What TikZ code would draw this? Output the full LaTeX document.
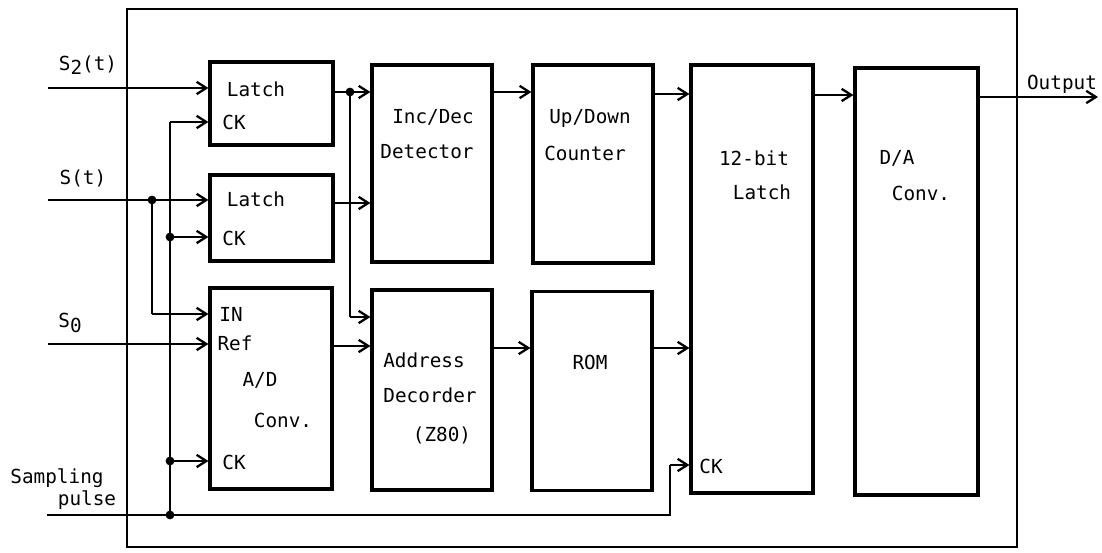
\documentclass[tikz,border=0pt]{standalone}
\usepackage{fontspec}
\setmonofont{DejaVu Sans Mono}
\usetikzlibrary{arrows.meta}

\begin{document}
\begin{tikzpicture}[
  x=0.02cm, y=-0.02cm,
  font=\ttfamily\fontsize{11}{13}\selectfont,
  blocco/.style={draw=black, line width=1.8pt, fill=white, inner sep=0pt},
  scritta/.style={inner sep=0pt},
  filo/.style={draw=black, line width=1.3pt},
  freccia/.style={filo, -{Straight Barb[length=5.5pt, width=7pt, line width=1.3pt]}},
  punto/.style={circle, fill=black, inner sep=0pt, minimum size=5pt}
]
\useasboundingbox (0,0) rectangle (1102,553);

% ---- cornice esterna -----------------------------------------------
\draw[line width=1.4pt] (127,9) rectangle (1017,547);

% ---- blocchi -------------------------------------------------------
\node[blocco, minimum width=2.46cm, minimum height=1.66cm] (latchA)  at (271.5,103.5) {};
\node[blocco, minimum width=2.46cm, minimum height=1.72cm] (latchB)  at (271.5,218)   {};
\node[blocco, minimum width=2.44cm, minimum height=4.02cm] (adc)     at (271,388.5)   {};
\node[blocco, minimum width=2.40cm, minimum height=3.94cm] (incdec)  at (432,163.5)   {};
\node[blocco, minimum width=2.40cm, minimum height=3.96cm] (counter) at (593,164)     {};
\node[blocco, minimum width=2.40cm, minimum height=4.00cm] (decoder) at (432,390)     {};
\node[blocco, minimum width=2.40cm, minimum height=3.98cm] (rom)     at (592,391)     {};
\node[blocco, minimum width=2.44cm, minimum height=8.56cm] (latch12) at (752,279)     {};
\node[blocco, minimum width=2.46cm, minimum height=8.54cm] (dac)     at (916.5,281.5) {};

% ---- scritte nei blocchi -------------------------------------------
\node[scritta] (tLatchA) at (256,89)  {Latch};
\node[scritta] (tCkA)    at (234,122) {CK};
\node[scritta] (tLatchB) at (256,199) {Latch};
\node[scritta] (tCkB)    at (234,238) {CK};
\node[scritta] (tIn)     at (231,314) {IN};
\node[scritta] (tRef)    at (235,343) {Ref};
\node[scritta] (tAd)     at (260,380) {A/D};
\node[scritta] (tAdConv) at (283,420) {Conv.};
\node[scritta] (tCkC)    at (234,462) {CK};
\node[scritta] (tInc)    at (433,117) {Inc/Dec};
\node[scritta] (tDet)    at (427,152) {Detector};
\node[scritta] (tUp)     at (590,118) {Up/Down};
\node[scritta] (tCnt)    at (585,153) {Counter};
\node[scritta] (tAddr)   at (424,360) {Address};
\node[scritta] (tDec)    at (430,395) {Decorder};
\node[scritta] (tZ80)    at (442,435) {(Z80)};
\node[scritta] (tRom)    at (590,362) {ROM};
\node[scritta] (t12)     at (754,158) {12-bit};
\node[scritta] (t12l)    at (762,192) {Latch};
\node[scritta] (tCk12)   at (711,466) {CK};
\node[scritta] (tDa)     at (897,158) {D/A};
\node[scritta] (tDaConv) at (921,193) {Conv.};

% ---- scritte esterne -----------------------------------------------
\node[scritta] (lS2)  at (88,65)   {S\raisebox{-0.4ex}{2}(t)};
\node[scritta] (lS)   at (83,178)  {S(t)};
\node[scritta] (lS0)  at (70,323)  {S\raisebox{-0.4ex}{0}};
\node[scritta] (lCk1) at (57,478)  {Sampling};
\node[scritta] (lCk2) at (87,500)  {pulse};
\node[scritta] (lOut) at (1062,84) {Output};

% ---- punti di ingresso e di diramazione ----------------------------
\coordinate (inS2)  at (48,88);
\coordinate (inS)   at (48,200);
\coordinate (inS0)  at (48,344);
\coordinate (inCk)  at (47,515);
\coordinate (ramo)  at (152,200);
\coordinate (ramoIn) at (152,314);
\coordinate (busA)  at (170,122);
\coordinate (busB)  at (170,237);
\coordinate (busC)  at (170,461);
\coordinate (busD)  at (170,515);
\coordinate (dirama) at (350,92);
\coordinate (giu)   at (350,317);
\coordinate (gomito) at (670,465);
\coordinate (uscita) at (1098,97);

% ---- ingressi ------------------------------------------------------
\draw[freccia] (inS2) -- (inS2 -| latchA.west);
\draw[freccia] (inS) -- (inS -| latchB.west);
\draw[freccia] (inS0) -- (inS0 -| adc.west);
\draw[filo] (ramo) -- (ramoIn);
\draw[freccia] (ramoIn) -- (ramoIn -| adc.west);

% ---- impulso di campionamento --------------------------------------
\draw[filo] (inCk) -- (gomito |- inCk) -- (gomito);
\draw[freccia] (gomito) -- (gomito -| latch12.west);
\draw[filo] (busD) -- (busA);
\draw[freccia] (busA) -- (busA -| latchA.west);
\draw[freccia] (busB) -- (busB -| latchB.west);
\draw[freccia] (busC) -- (busC -| adc.west);

% ---- collegamenti fra blocchi --------------------------------------
\draw[filo] (dirama -| latchA.east) -- (dirama);
\draw[freccia] (dirama) -- (dirama -| incdec.west);
\draw[filo] (dirama) -- (giu);
\draw[freccia] (giu) -- (giu -| decoder.west);
\draw[freccia] (latchB.east |- 0,203) -- (incdec.west |- 0,203);
\draw[freccia] (adc.east |- 0,346) -- (decoder.west |- 0,346);
\draw[freccia] (incdec.east |- 0,92) -- (counter.west |- 0,92);
\draw[freccia] (counter.east |- 0,94) -- (latch12.west |- 0,94);
\draw[freccia] (decoder.east |- 0,348) -- (rom.west |- 0,348);
\draw[freccia] (rom.east |- 0,348) -- (latch12.west |- 0,348);
\draw[freccia] (latch12.east |- 0,95) -- (dac.west |- 0,95);
\draw[freccia] (uscita -| dac.east) -- (uscita);

% ---- punti di giunzione --------------------------------------------
\foreach \p in {ramo, busB, busC, busD, dirama}
  \node[punto] at (\p) {};

\end{tikzpicture}
\end{document}
